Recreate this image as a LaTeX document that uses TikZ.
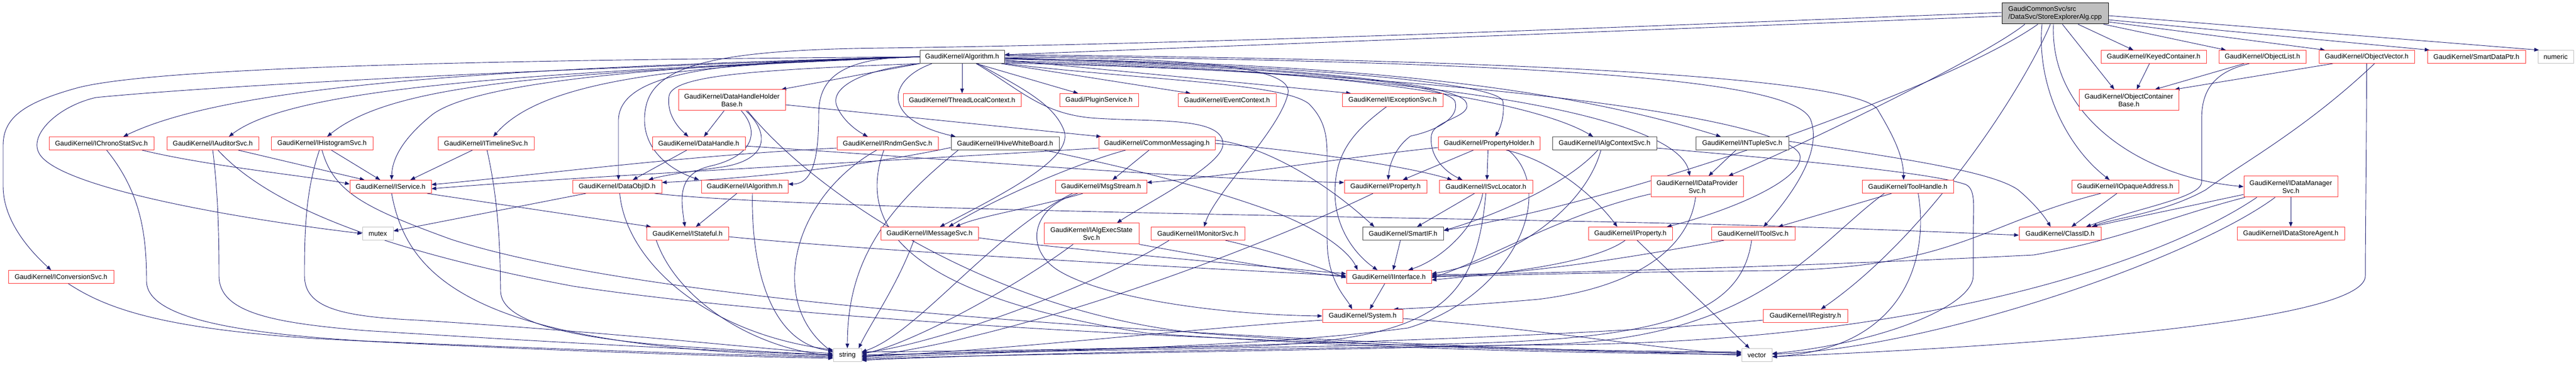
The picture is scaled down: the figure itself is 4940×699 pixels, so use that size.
\documentclass[tikz,border=0pt]{standalone}
\usepackage{fontspec}
\setmainfont{Liberation Sans}
\usetikzlibrary{arrows.meta}
\definecolor{edgec}{HTML}{191970}
\definecolor{redb}{HTML}{FF3030}
\definecolor{greyb}{HTML}{BFBFBF}
\definecolor{darkb}{HTML}{404040}
\pgfdeclarelayer{back}
\pgfdeclarelayer{edges}
\pgfsetlayers{back,edges,main}
\tikzset{
  box/.style={rectangle, inner sep=0pt, minimum height=25pt, fill=white, line width=1pt, text=black, font={\fontsize{13pt}{15pt}\selectfont}},
  rn/.style={box, draw=redb},
  bn/.style={box, draw=darkb},
  gn/.style={box, draw=greyb},
  two/.style={minimum height=40pt, align=center},
  ed/.style={draw=edgec, line width=0.9pt, -{Triangle[length=9pt,width=7pt]}},
}
\begin{document}
\begin{tikzpicture}[x=1pt,y=1pt]
\useasboundingbox (0,0) rectangle (4940,699);
\begin{pgfonlayer}{back}
\fill[white] (0,0) rectangle (4940,699);
\end{pgfonlayer}
% nodes
\node[box, fill=greyb, draw=black, minimum height=40pt, minimum width=204pt, align=left] (main) at (3941,673) {GaudiCommonSvc/src\\/DataSvc/StoreExplorerAlg.cpp};
\node[bn, minimum width=162pt] (alg) at (1845,590) {GaudiKernel/Algorithm.h};
\node[rn, minimum width=202pt] (keyed) at (4130,590) {GaudiKernel/KeyedContainer.h};
\node[rn, minimum width=167pt] (olist) at (4338.5,590) {GaudiKernel/ObjectList.h};
\node[rn, minimum width=183pt] (ovec) at (4538.5,590) {GaudiKernel/ObjectVector.h};
\node[rn, minimum width=188pt] (sdp) at (4749,590) {GaudiKernel/SmartDataPtr.h};
\node[gn, minimum width=68pt] (numeric) at (4901,590) {numeric};
\node[rn, two, minimum width=205pt] (dhhb) at (1403.5,507) {GaudiKernel/DataHandleHolder\\Base.h};
\node[rn, minimum width=226pt] (tlc) at (1845,507) {GaudiKernel/ThreadLocalContext.h};
\node[rn, minimum width=151pt] (plugin) at (2107.5,507) {Gaudi/PluginService.h};
\node[rn, minimum width=188pt] (evctx) at (2353,507) {GaudiKernel/EventContext.h};
\node[rn, minimum width=193pt] (iexc) at (2670.5,507) {GaudiKernel/IExceptionSvc.h};
\node[rn, two, minimum width=191pt] (ocb) at (4082.5,507) {GaudiKernel/ObjectContainer\\Base.h};
\node[rn, minimum width=201pt] (ichrono) at (194.5,424) {GaudiKernel/IChronoStatSvc.h};
\node[rn, minimum width=176pt] (iaud) at (408,424) {GaudiKernel/IAuditorSvc.h};
\node[rn, minimum width=195pt] (ihist) at (617.5,424) {GaudiKernel/IHistogramSvc.h};
\node[rn, minimum width=184pt] (itime) at (932,424) {GaudiKernel/ITimelineSvc.h};
\node[rn, minimum width=178pt] (dh) at (1340,424) {GaudiKernel/DataHandle.h};
\node[rn, minimum width=194pt] (irndm) at (1702,424) {GaudiKernel/IRndmGenSvc.h};
\node[bn, minimum width=207pt] (ihive) at (1927.5,424) {GaudiKernel/IHiveWhiteBoard.h};
\node[rn, minimum width=223pt] (cmsg) at (2218.5,424) {GaudiKernel/CommonMessaging.h};
\node[rn, minimum width=195pt] (ph) at (2855.5,424) {GaudiKernel/PropertyHolder.h};
\node[bn, minimum width=200pt] (ialgctx) at (3077,424) {GaudiKernel/IAlgContextSvc.h};
\node[bn, minimum width=178pt] (intuple) at (3341,424) {GaudiKernel/INTupleSvc.h};
\node[rn, minimum width=156pt] (isvc) at (749,341) {GaudiKernel/IService.h};
\node[rn, minimum width=171pt] (doid) at (1183.5,341) {GaudiKernel/DataObjID.h};
\node[rn, minimum width=166pt] (ialg) at (1428,341) {GaudiKernel/IAlgorithm.h};
\node[rn, minimum width=175pt] (msg) at (2111.5,341) {GaudiKernel/MsgStream.h};
\node[rn, minimum width=158pt] (prop) at (2657,341) {GaudiKernel/Property.h};
\node[rn, minimum width=179pt] (isl) at (2849.5,341) {GaudiKernel/ISvcLocator.h};
\node[rn, two, minimum width=177pt] (idp) at (3254.5,341) {GaudiKernel/IDataProvider\\Svc.h};
\node[rn, minimum width=175pt] (th) at (3658.5,341) {GaudiKernel/ToolHandle.h};
\node[rn, minimum width=205pt] (iopq) at (4075.5,341) {GaudiKernel/IOpaqueAddress.h};
\node[rn, two, minimum width=180pt] (idm) at (4393,341) {GaudiKernel/IDataManager\\Svc.h};
\node[gn, minimum width=59pt] (mutex) at (724.5,251) {mutex};
\node[rn, minimum width=157pt] (istate) at (1318.5,251) {GaudiKernel/IStateful.h};
\node[rn, minimum width=187pt] (imsg) at (1782.5,251) {GaudiKernel/IMessageSvc.h};
\node[rn, two, minimum width=182pt] (iaes) at (2093,251) {GaudiKernel/IAlgExecState\\Svc.h};
\node[rn, minimum width=180pt] (imon) at (2297,251) {GaudiKernel/IMonitorSvc.h};
\node[bn, minimum width=155pt] (sif) at (2690.5,251) {GaudiKernel/SmartIF.h};
\node[rn, minimum width=161pt] (iprop) at (3126.5,251) {GaudiKernel/IProperty.h};
\node[rn, minimum width=160pt] (itool) at (3362,251) {GaudiKernel/IToolSvc.h};
\node[rn, minimum width=157pt] (clid) at (3950.5,251) {GaudiKernel/ClassID.h};
\node[rn, minimum width=206pt] (idsa) at (4393,251) {GaudiKernel/IDataStoreAgent.h};
\node[rn, minimum width=202pt] (iconv) at (117,168) {GaudiKernel/IConversionSvc.h};
\node[rn, minimum width=163pt] (iint) at (2663.5,168) {GaudiKernel/IInterface.h};
\node[rn, minimum width=154pt] (sys) at (2613,93) {GaudiKernel/System.h};
\node[rn, minimum width=162pt] (ireg) at (3462,93) {GaudiKernel/IRegistry.h};
\node[gn, minimum width=54pt] (string) at (1625,18) {string};
\node[gn, minimum width=58pt] (vector) at (3369,18) {vector};
\begin{pgfonlayer}{edges}
% main
\draw[ed] ([yshift=-5]main.west) -- ([yshift=4]alg.east);
\draw[ed] ([yshift=2]main.west) .. controls (3300,655) and (2400,616) .. (1700,607) .. controls (1400,604) and (1262,580) .. (1240,500) .. controls (1224,440) and (1255,385) .. ([xshift=-4]ialg.north west);
\draw[ed] ([xshift=-58]main.south) .. controls (3820,600) and (3500,440) .. ([xshift=60]idp.north);
\draw[ed] ([xshift=-33]main.south) .. controls (3750,540) and (3150,320) .. ([yshift=6]sif.east);
\draw[ed] ([xshift=-9]main.south) .. controls (3880,530) and (3700,250) .. ([xshift=30]ireg.north);
\draw[ed] ([xshift=-25]main.south) .. controls (3905,540) and (3960,420) .. ([xshift=-30]iopq.north);
\draw[ed] ([xshift=-3]main.south) .. controls (3930,480) and (4100,360) .. (idm.west);
\draw[ed] ([xshift=14]main.south) -- ([xshift=-28]ocb.north);
\draw[ed] ([xshift=44]main.south) -- ([xshift=-39]keyed.north);
\draw[ed] ([xshift=93]main.south) -- ([xshift=-70]olist.north);
\draw[ed] ([yshift=-16]main.east) -- ([xshift=-80]ovec.north);
\draw[ed] ([yshift=-12]main.east) -- ([xshift=-90]sdp.north);
\draw[ed] ([yshift=-4]main.east) -- ([xshift=-32]numeric.north);
% Algorithm
\draw[ed] (alg) -- (tlc);
\draw[ed] (alg.south west) -- ([xshift=-8]dhhb.north east);
\draw[ed] ([xshift=27]alg.south) -- ([xshift=-40]plugin.north);
\draw[ed] ([xshift=75]alg.south) -- ([xshift=-70]evctx.north);
\draw[ed] ([yshift=-6]alg.east) -- ([xshift=-80]iexc.north);
\draw[ed] (alg.west) .. controls (1000,570) and (450,540) .. ([xshift=42]ichrono.north);
\draw[ed] (alg.west) .. controls (1000,560) and (560,530) .. ([xshift=31]iaud.north);
\draw[ed] (alg.west) .. controls (1100,560) and (760,545) .. ([xshift=10]ihist.north);
\draw[ed] (alg.west) .. controls (1300,575) and (1040,545) .. ([xshift=14]itime.north);
\draw[ed] (alg.west) .. controls (1100,585) and (300,575) .. (143,529) .. controls (40,500) and (6,470) .. (6,420) -- (6,342) .. controls (6,280) and (50,225) .. ([xshift=-19]iconv.north);
\draw[ed] (alg.west) .. controls (1000,565) and (420,535) .. (184,512) .. controls (110,495) and (55,440) .. (75,405) .. controls (110,340) and (450,280) .. (mutex.west);
\draw[ed] (alg.south west) .. controls (1450,565) and (1290,555) .. (1283,515) .. controls (1278,480) and (1300,455) .. ([xshift=-20]dh.north);
\draw[ed] (alg.south west) .. controls (1650,565) and (1590,530) .. (1605,495) .. controls (1615,470) and (1640,450) .. ([xshift=-38]irndm.north);
\draw[ed] ([xshift=-58]alg.south) .. controls (1700,545) and (1690,470) .. ([xshift=-95]ihive.north);
\draw[ed] ([yshift=-3]alg.east) .. controls (2400,578) and (2870,545) .. (2882,505) .. controls (2886,480) and (2878,455) .. ([xshift=12]ph.north);
\draw[ed] ([yshift=-8]alg.east) .. controls (2600,570) and (2950,500) .. ([xshift=-22]ialgctx.north);
\draw[ed] ([yshift=-4]alg.east) .. controls (2600,580) and (3000,530) .. ([xshift=-41]intuple.north);
\draw[ed] ([yshift=-10]alg.east) .. controls (2800,560) and (3220,470) .. ([xshift=-14]idp.north);
\draw[ed] ([yshift=4]alg.east) .. controls (3000,585) and (3560,545) .. (3600,490) .. controls (3630,440) and (3650,400) .. ([xshift=-8]th.north);
\draw[ed] ([yshift=2]alg.east) .. controls (3000,580) and (3440,545) .. (3472,470) .. controls (3495,410) and (3440,330) .. ([xshift=20]itool.north);
\draw[ed] ([yshift=-12]alg.east) .. controls (2800,560) and (3440,470) .. (3452,400) .. controls (3458,350) and (3300,290) .. ([xshift=70]iprop.north);
\draw[ed] ([yshift=-2]alg.east) .. controls (2400,575) and (2780,545) .. (2810,505) .. controls (2830,475) and (2750,470) .. (2745,440) .. controls (2740,400) and (2770,370) .. ([xshift=-45]isl.north);
\draw[ed] ([yshift=-4]alg.east) .. controls (2400,572) and (2770,545) .. (2790,505) .. controls (2800,475) and (2760,450) .. (2705,438) .. controls (2680,420) and (2665,390) .. ([xshift=5]prop.north);
\draw[ed] ([xshift=30]alg.south) .. controls (1960,530) and (2020,500) .. (2040,450) .. controls (2060,400) and (1950,340) .. ([xshift=20]imsg.north);
\draw[ed] ([xshift=27]alg.south) .. controls (1960,525) and (2000,478) .. (2105,472) .. controls (2220,465) and (2350,475) .. (2345,420) .. controls (2340,380) and (2200,310) .. ([xshift=49]iaes.north);
\draw[ed] ([yshift=-1]alg.east) .. controls (2300,588) and (2480,570) .. (2470,520) .. controls (2455,450) and (2330,330) .. ([xshift=12]imon.north);
\draw[ed] (alg.west) .. controls (1300,575) and (920,545) .. (830,480) .. controls (780,440) and (752,400) .. ([xshift=2]isvc.north);
\draw[ed] (alg.west) .. controls (1400,583) and (1190,565) .. (1186,470) -- ([xshift=2.5]doid.north);
\draw[ed] (alg.west) .. controls (1600,590) and (1570,540) .. (1570,480) .. controls (1570,400) and (1560,346) .. ([yshift=5]ialg.east);
\draw[ed] (alg.south east) .. controls (2200,545) and (2460,540) .. (2510,500) .. controls (2540,470) and (2545,440) .. (2545,400) -- (2545,240) .. controls (2545,160) and (2580,130) .. ([xshift=-20]sys.north);
% DataHandleHolderBase
\draw[ed] ([xshift=-15]dhhb.south) -- ([xshift=10]dh.north);
\draw[ed] ([xshift=18]dhhb.south) .. controls (1455,450) and (1450,400) .. (1360,380) .. controls (1300,365) and (1305,320) .. ([xshift=-5]istate.north);
\draw[ed] ([xshift=27]dhhb.south) .. controls (1480,440) and (1470,390) .. (1380,378) .. controls (1320,370) and (1270,362) .. ([xshift=60]doid.north);
\draw[ed] ([yshift=-9]dhhb.east) -- ([xshift=-107]cmsg.north);
\draw[ed] ([xshift=30]dhhb.south) .. controls (1560,330) and (1900,100) .. (2300,60) .. controls (2700,30) and (3100,22) .. ([yshift=5]vector.west);
% DataHandle
\draw[ed] ([xshift=-23]dh.south) -- ([xshift=30]doid.north);
\draw[ed] ([yshift=-5]dh.east) .. controls (1800,395) and (2300,355) .. ([yshift=8]prop.west);
% IRndmGenSvc
\draw[ed] ([yshift=-9]irndm.west) .. controls (1300,400) and (1000,360) .. ([yshift=4]isvc.east);
\draw[ed] ([xshift=-21]irndm.south) .. controls (1520,320) and (1470,120) .. ([yshift=5]string.west);
\draw[ed] ([xshift=-7]irndm.south) .. controls (1640,260) and (1750,130) .. (2200,60) .. controls (2700,25) and (3100,22) .. ([yshift=1]vector.west);
% IHiveWhiteBoard
\draw[ed] ([yshift=-8]ihive.west) .. controls (1700,390) and (1500,360) .. ([yshift=8]doid.east);
\draw[ed] ([xshift=75]ihive.south) .. controls (2150,380) and (2300,345) .. (2450,290) .. controls (2550,250) and (2590,210) .. ([xshift=-60]iint.north);
\draw[ed] ([xshift=-90]ihive.south) .. controls (1700,300) and (1625,200) .. (string.north);
% CommonMessaging
\draw[ed] ([xshift=-15]cmsg.south) -- ([xshift=22]msg.north);
\draw[ed] ([xshift=-60]cmsg.south) .. controls (2080,390) and (1930,330) .. ([xshift=37]imsg.north);
\draw[ed] ([yshift=6]cmsg.east) .. controls (2400,425) and (2520,370) .. ([xshift=-55]sif.north);
\draw[ed] (cmsg.east) .. controls (2500,410) and (2700,380) .. ([xshift=-65]isl.north);
\draw[ed] ([yshift=-9]cmsg.west) .. controls (1700,390) and (1100,360) .. ([yshift=-4]isvc.east);
% MsgStream
\draw[ed] ([xshift=-35]msg.south) .. controls (1980,300) and (1880,285) .. ([xshift=50]imsg.north);
\draw[ed] ([xshift=-55]msg.south) .. controls (1900,250) and (1760,60) .. ([yshift=6]string.east);
\draw[ed] ([xshift=-45]msg.south) .. controls (1975,300) and (1965,220) .. (2030,180) .. controls (2120,125) and (2350,95) .. (sys.west);
% IMessageSvc
\draw[ed] ([yshift=-8]imsg.east) .. controls (2000,225) and (2400,190) .. ([yshift=6]iint.west);
\draw[ed] ([xshift=-30]imsg.south) .. controls (1720,150) and (1670,80) .. ([xshift=-6]string.north east);
% IStateful
\draw[ed] ([yshift=-6]istate.east) .. controls (1700,215) and (2300,185) .. ([yshift=2]iint.west);
\draw[ed] ([xshift=-60]istate.south) .. controls (1300,120) and (1450,30) .. ([yshift=-1]string.west);
% IAlgorithm
\draw[ed] ([xshift=-15]ialg.south) -- ([xshift=16]istate.north);
\draw[ed] ([xshift=15]ialg.south) .. controls (1440,180) and (1480,40) .. ([yshift=8]string.west);
% IService
\draw[ed] ([xshift=70]isvc.south) -- ([xshift=-70]istate.north);
\draw[ed] ([xshift=2]isvc.south) .. controls (780,170) and (900,30) .. ([yshift=-2]string.west);
% DataObjID
\draw[ed] ([xshift=-60]doid.south) -- ([yshift=5]mutex.east);
\draw[ed] ([xshift=5]doid.south) .. controls (1200,200) and (1350,60) .. ([yshift=10]string.west);
\draw[ed] ([xshift=72]doid.south) .. controls (1500,300) and (2500,285) .. (3000,275) .. controls (3400,268) and (3700,255) .. ([yshift=-3]clid.west);
% IExceptionSvc
\draw[ed] ([xshift=-12]iexc.south) .. controls (2600,450) and (2560,410) .. (2560,330) .. controls (2560,260) and (2600,210) .. ([xshift=-22]iint.north);
% PropertyHolder
\draw[ed] ([xshift=-30]ph.south) -- ([xshift=33]prop.north);
\draw[ed] ([xshift=-2]ph.south) -- ([xshift=2]isl.north);
\draw[ed] ([xshift=33]ph.south) .. controls (2980,390) and (3060,320) .. ([xshift=-25]iprop.north);
\draw[ed] ([xshift=37]ph.south) .. controls (2990,330) and (2900,130) .. (2700,70) .. controls (2400,30) and (1900,25) .. ([yshift=-6]string.east);
\draw[ed] ([yshift=-8]ph.west) .. controls (2600,400) and (2350,360) .. ([yshift=8]msg.east);
% IAlgContextSvc
\draw[ed] ([xshift=-13]ialgctx.south) .. controls (3000,340) and (2850,280) .. ([yshift=6]sif.east);
\draw[ed] ([xshift=-7]ialgctx.south) .. controls (3040,300) and (2900,200) .. ([yshift=6]iint.east);
\draw[ed] ([yshift=-9]ialgctx.east) .. controls (3400,395) and (3700,370) .. (3770,345) .. controls (3790,335) and (3784,300) .. (3784,250) -- (3784,170) .. controls (3784,110) and (3600,40) .. ([yshift=3]vector.east);
% INTupleSvc
\draw[ed] ([xshift=-12]intuple.south) -- ([xshift=22]idp.north);
\draw[ed] ([yshift=4]intuple.east) .. controls (3650,395) and (3820,370) .. (3870,335) .. controls (3900,310) and (3920,285) .. ([xshift=-18]clid.north);
% IDataProviderSvc
\draw[ed] ([yshift=-14]idp.west) .. controls (3000,290) and (2850,200) .. ([yshift=-2]iint.east);
\draw[ed] ([xshift=-3]idp.south) .. controls (3240,230) and (3150,150) .. (2950,125) .. controls (2800,112) and (2720,108) .. ([xshift=-18]sys.north east);
% ToolHandle
\draw[ed] ([xshift=-31]th.south) -- ([xshift=48]itool.north);
\draw[ed] ([xshift=-45]th.south) .. controls (3480,230) and (3380,60) .. (3000,40) .. controls (2500,25) and (1900,20) .. ([yshift=-8]string.east);
\draw[ed] ([xshift=20]th.south) .. controls (3700,200) and (3650,30) .. ([yshift=-3]vector.east);
% IToolSvc
\draw[ed] ([xshift=-56]itool.south) .. controls (3100,200) and (2900,170) .. ([yshift=2]iint.east);
\draw[ed] ([xshift=-3]itool.south) .. controls (3340,100) and (3200,50) .. (2800,40) .. controls (2300,30) and (1900,24) .. (string.east);
% IProperty
\draw[ed] ([xshift=-10]iprop.south) .. controls (3050,190) and (2850,172) .. ([yshift=-6]iint.east);
\draw[ed] ([xshift=13]iprop.south) -- ([xshift=-14]vector.north);
% IOpaqueAddress
\draw[ed] ([xshift=-16]iopq.south) -- ([xshift=22]clid.north);
\draw[ed] ([xshift=-47]iopq.south) .. controls (3800,270) and (3750,185) .. (3400,180) .. controls (3100,177) and (2900,172) .. (iint.east);
% IDataManagerSvc
\draw[ed] ([yshift=-15]idm.west) -- ([xshift=60]clid.north);
\draw[ed] (idm) -- (idsa);
\draw[ed] ([xshift=-88]idm.south) .. controls (4150,280) and (4070,240) .. (3900,210) .. controls (3500,190) and (3000,175) .. ([yshift=4]iint.east);
\draw[ed] ([xshift=-30]idm.south) .. controls (4200,200) and (3700,30) .. ([yshift=2]vector.east);
\draw[ed] ([xshift=-65]idm.south) .. controls (4150,200) and (3700,45) .. (3000,38) .. controls (2500,32) and (1900,20) .. ([yshift=-10]string.east);
% containers
\draw[ed] ([xshift=-35]olist.south) -- ([xshift=50]ocb.north);
\draw[ed] ([xshift=-25]olist.south) .. controls (4240,560) and (4222,520) .. (4222,470) -- (4222,350) .. controls (4222,320) and (4100,300) .. ([xshift=50]clid.north);
\draw[ed] ([xshift=-65]ovec.south) -- ([xshift=-8]ocb.north east);
\draw[ed] ([xshift=15]ovec.south) .. controls (4420,450) and (4290,380) .. (4230,335) .. controls (4150,290) and (4050,280) .. ([xshift=62]clid.north);
\draw[ed] (ovec.south) .. controls (4538,400) and (4536,250) .. (4536,170) .. controls (4536,90) and (4000,40) .. ([yshift=-3]vector.east);
\draw[ed] ([xshift=-8]keyed.south) -- ([xshift=15]ocb.north);
% lower middle
\draw[ed] ([xshift=-5]sif.south) -- ([xshift=8]iint.north);
\draw[ed] ([xshift=-22]isl.south) -- ([xshift=27]sif.north);
\draw[ed] ([xshift=-6]isl.south) .. controls (2830,260) and (2760,200) .. ([xshift=37]iint.north);
\draw[ed] (isl.south) .. controls (2830,120) and (2760,50) .. (2400,35) .. controls (2000,28) and (1800,22) .. ([yshift=-2]string.east);
\draw[ed] ([xshift=-24]prop.south) .. controls (2450,240) and (2000,60) .. ([yshift=-4]string.east);
\draw[ed] ([xshift=-8]iint.south) -- ([xshift=14]sys.north);
\draw[ed] ([yshift=-8]sys.west) .. controls (2300,70) and (1900,25) .. ([yshift=-3]string.east);
\draw[ed] ([yshift=-5]sys.east) .. controls (2950,70) and (3200,25) .. ([yshift=3]vector.west);
\draw[ed] ([yshift=-8]ireg.west) .. controls (3000,50) and (2200,28) .. ([yshift=6]string.east);
\draw[ed] ([xshift=53]imon.south) .. controls (2450,215) and (2520,190) .. ([yshift=-2]iint.west);
\draw[ed] ([xshift=-55]imon.south) .. controls (2100,150) and (1800,40) .. ([yshift=4]string.east);
\draw[ed] ([xshift=-35]iaes.south) .. controls (1950,150) and (1750,40) .. ([yshift=2]string.east);
\draw[ed] (iaes.south east) .. controls (2350,200) and (2500,175) .. (iint.west);
% left side
\draw[ed] ([xshift=10]ichrono.south) .. controls (270,330) and (281,250) .. (281,160) .. controls (281,90) and (450,60) .. (700,45) .. controls (1100,28) and (1400,18) .. ([yshift=-4]string.west);
\draw[ed] ([xshift=78]ichrono.south) .. controls (400,380) and (600,360) .. ([yshift=5]isvc.west);
\draw[ed] (iaud.south) .. controls (418,330) and (420,250) .. (420,170) .. controls (420,100) and (520,80) .. (700,65) .. controls (1100,40) and (1400,25) .. (string.west);
\draw[ed] ([xshift=49]iaud.south) -- ([xshift=-50]isvc.north);
\draw[ed] ([xshift=10]iaud.south) .. controls (520,300) and (750,215) .. (1100,150) .. controls (1700,60) and (2900,25) .. ([yshift=6]vector.west);
\draw[ed] ([xshift=-5]ihist.south) .. controls (585,330) and (584,250) .. (584,170) .. controls (584,110) and (650,92) .. (800,85) .. controls (1200,60) and (1450,30) .. ([yshift=3]string.west);
\draw[ed] ([xshift=18]ihist.south) -- ([xshift=-20]isvc.north);
\draw[ed] (ihist.south) .. controls (640,330) and (700,300) .. (865,240) .. controls (1300,100) and (2500,40) .. (vector.west);
\draw[ed] ([xshift=-26]itime.south) -- ([xshift=38]isvc.north);
\draw[ed] ([xshift=2]itime.south) .. controls (959,300) and (959,200) .. (960,140) .. controls (962,80) and (1100,50) .. (1300,35) .. controls (1450,25) and (1550,20) .. ([yshift=1]string.west);
\draw[ed] ([xshift=14]iconv.south) .. controls (200,110) and (300,70) .. (600,50) .. controls (1000,28) and (1400,15) .. ([yshift=-6]string.west);
\end{pgfonlayer}
\end{tikzpicture}
\end{document}
